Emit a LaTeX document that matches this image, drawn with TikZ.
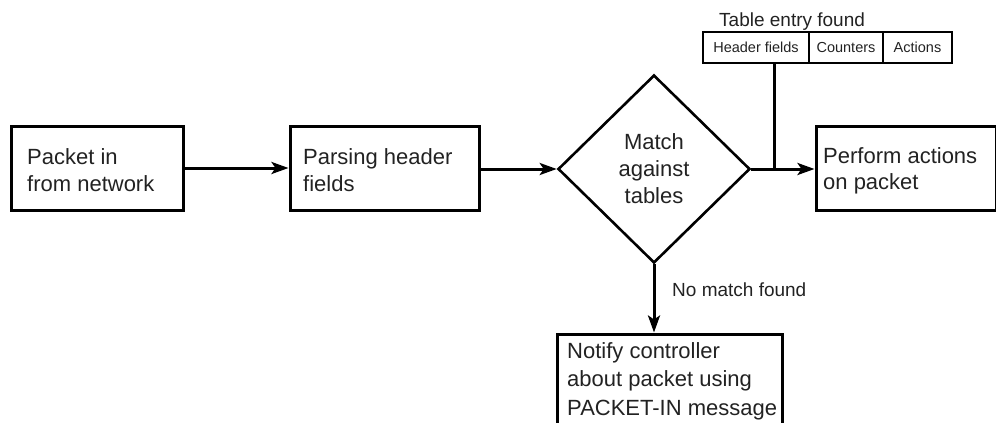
\documentclass[tikz,border=0pt]{standalone}
\usepackage{fontspec}
\setmainfont{Liberation Sans}
\usetikzlibrary{shapes.geometric,arrows.meta}
\definecolor{ink}{HTML}{222222}
\begin{document}
\begin{tikzpicture}[x=1pt,y=-1pt,
  every node/.style={text=ink},
  box/.style={draw=black,line width=3pt,rectangle,inner sep=0pt},
  cell/.style={draw=black,line width=2.6pt,rectangle,inner sep=0pt,
    minimum height=31pt,font=\fontsize{14.5pt}{17pt}\selectfont},
  boxtext/.style={anchor=north west,inner sep=0pt,align=left,
    font=\fontsize{22pt}{27pt}\selectfont},
  decision/.style={draw=black,line width=2.6pt,diamond,inner sep=0pt,
    align=center,font=\fontsize{22pt}{27pt}\selectfont},
  smalltext/.style={anchor=base west,inner sep=0pt,
    font=\fontsize{19pt}{22pt}\selectfont},
  flow/.style={draw=black,line width=3pt,
    -{Stealth[length=17pt,width=12pt,inset=4pt]}},
  link/.style={draw=black,line width=3pt}]

\useasboundingbox (0,0) rectangle (996,423);

% process boxes
\node[box,minimum width=172pt,minimum height=84pt] (inbox) at (97.5,168) {};
\node[boxtext] (intext) at (27,148) {Packet in\\from network};

\node[box,minimum width=189pt,minimum height=84pt] (parse) at (384.5,168) {};
\node[boxtext] (parsetext) at (303,148) {Parsing header\\fields};

\node[decision,minimum width=192pt,minimum height=188pt] (match) at (654,169)
  {Match\\against\\tables};

\node[box,minimum width=180pt,minimum height=84pt] (perform) at (906,168.5) {};
\node[boxtext,font=\fontsize{22pt}{26pt}\selectfont] (performtext) at (823,147)
  {Perform actions\\on packet};

\node[box,minimum width=224.5pt,minimum height=116pt] (notify) at (669.75,392) {};
\node[boxtext,font=\fontsize{22pt}{28.5pt}\selectfont] (notifytext) at (567,342)
  {Notify controller\\about packet using\\PACKET-IN message};

% flow table entry
\node[cell,minimum width=106pt] (hdr) at (756,47.5) {Header fields};
\node[cell,minimum width=74pt] (cnt) at (846,47.5) {Counters};
\node[cell,minimum width=69pt] (act) at (917.5,47.5) {Actions};
\node[smalltext] (entry) at (719,26) {Table entry found};

% connectors
\coordinate (junc) at (774,169);
\draw[flow] (inbox.east) -- (parse.west);
\draw[flow] (parse.east |- match.west) -- (match.west);
\draw[flow] (match.east) -- (match.east -| perform.west);
\draw[link] (junc) -- (junc |- hdr.south);
\draw[flow] (match.south) -- (match.south |- notify.north);

\node[smalltext] (nomatch) at (672,296) {No match found};
\end{tikzpicture}
\end{document}
